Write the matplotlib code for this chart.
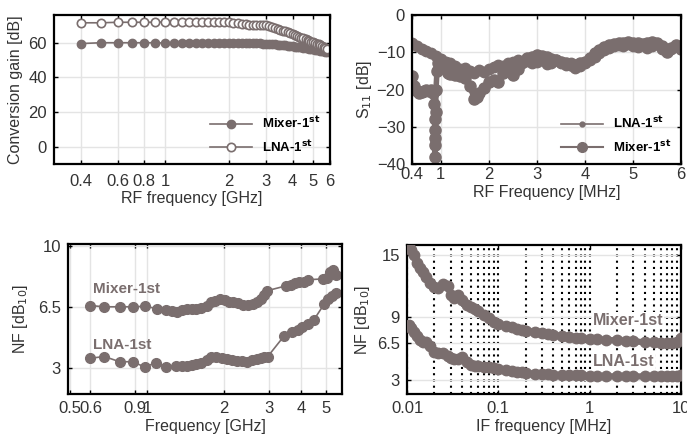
import matplotlib
matplotlib.use("Agg")
import matplotlib.pyplot as plt
from matplotlib.ticker import FixedLocator, NullFormatter, NullLocator
from matplotlib.lines import Line2D

plt.rcParams['font.family'] = ['Liberation Sans', 'DejaVu Sans']

GRAY = '#7a6e6e'
TXT = '#333333'
GRID = '#e4e4e4'

# ---- Top-left: conversion gain ----
cg_freq = [0.4, 0.5, 0.6, 0.7, 0.8, 0.9, 1.0, 1.1, 1.2, 1.3, 1.4, 1.5, 1.6, 1.7, 1.8, 1.9,
           2.0, 2.1, 2.2, 2.3, 2.4, 2.5, 2.6, 2.7, 2.8, 2.9, 3.0, 3.1, 3.2, 3.3, 3.4, 3.5,
           3.6, 3.7, 3.8, 3.9, 4.0, 4.1, 4.2, 4.3, 4.4, 4.5, 4.6, 4.7, 4.8, 4.9, 5.0, 5.1,
           5.2, 5.3, 5.4, 5.5, 5.6, 5.7, 5.8]
cg_lna = [71.5, 71.5, 71.8, 71.8, 71.8, 71.8, 72.0, 72.0, 72.0, 72.0, 72.0, 72.0, 72.0, 72.0, 72.0, 72.0,
          71.8, 71.5, 71.2, 71.0, 70.8, 70.5, 70.5, 70.2, 70.2, 70.0, 70.0, 69.5, 69.0, 68.5, 68.0, 67.5,
          67.0, 66.5, 66.0, 65.5, 65.0, 64.5, 64.0, 63.5, 63.0, 62.5, 62.0, 61.5, 61.0, 60.5, 60.2, 60.0,
          59.5, 59.0, 58.5, 58.0, 57.5, 57.0, 56.5]
cg_mixer = [59.5, 60.0, 60.0, 60.0, 60.0, 60.0, 59.8, 59.8, 59.8, 59.8, 59.8, 59.8, 59.8, 59.8, 59.8, 59.8,
            59.8, 59.8, 59.8, 59.8, 59.8, 59.7, 59.7, 59.6, 59.6, 59.5, 59.4, 59.3, 59.2, 59.0, 58.9, 58.8,
            58.6, 58.4, 58.2, 58.0, 57.9, 57.8, 57.6, 57.5, 57.3, 57.2, 57.0, 56.8, 56.6, 56.4, 56.2, 56.0,
            55.8, 55.6, 55.4, 55.2, 55.0, 54.8, 54.6]
cg_xticks = [0.4, 0.6, 0.8, 1, 2, 3, 4, 5, 6]
cg_xticklabels = ['0.4', '0.6', '0.8', '1', '2', '3', '4', '5', '6']
cg_yticks = [0, 20, 40, 60]

# ---- Top-right: S11 ----
s11_lna_freq = [0.4, 0.5, 0.6, 0.7, 0.8, 0.9, 1.0, 1.1, 1.2, 1.3, 1.4, 1.5, 1.6, 1.7, 1.8, 1.9,
                2.0, 2.1, 2.2, 2.3, 2.4, 2.5, 2.6, 2.7, 2.8, 2.9, 3.0, 3.1, 3.2, 3.3, 3.4, 3.5,
                3.6, 3.7, 3.8, 3.9, 4.0, 4.1, 4.2, 4.3, 4.4, 4.5, 4.6, 4.7, 4.8, 4.9, 5.0, 5.1,
                5.2, 5.3, 5.4, 5.5, 5.6, 5.7, 5.8, 5.9, 6.0]
s11_lna = [-7.5, -8.3, -9.0, -9.6, -10.3, -11.0, -11.8, -12.6, -13.0, -13.8, -14.5, -14.2, -15.0, -15.6, -14.8, -15.3,
           -14.6, -14.0, -13.5, -13.8, -13.0, -12.6, -12.2, -12.8, -12.4, -13.0, -12.5, -12.0, -13.2, -12.8, -12.2, -13.0,
           -13.5, -13.0, -14.2, -13.6, -12.8, -12.0, -11.2, -10.2, -9.4, -8.8, -8.2, -8.0, -8.4, -7.8, -8.2, -8.6,
           -8.0, -8.8, -8.2, -7.8, -9.0, -9.6, -9.0, -8.4, -9.0]
s11_mix_freq = [0.40, 0.45, 0.50, 0.55, 0.60, 0.65, 0.70, 0.75, 0.80, 0.84, 0.86, 0.87, 0.88, 0.88, 0.88, 0.88,
                0.89, 0.90, 0.92, 0.95, 1.00, 1.05, 1.10, 1.15, 1.20, 1.30, 1.40, 1.50, 1.60, 1.70, 1.75, 1.80,
                1.90, 2.00, 2.10, 2.20, 2.30, 2.40, 2.50, 2.60, 2.70, 2.80, 2.90, 3.00, 3.10, 3.20, 3.30, 3.40,
                3.50, 3.60, 3.70, 3.80, 3.90, 4.00, 4.10, 4.20, 4.30, 4.40, 4.50, 4.60, 4.70, 4.80, 4.90, 5.00,
                5.10, 5.20, 5.30, 5.40, 5.50, 5.60, 5.70, 5.80, 5.90, 6.00]
s11_mix = [-16.5, -19.0, -20.5, -21.0, -20.8, -20.5, -20.0, -20.3, -20.0, -21.0, -24.0, -28.0, -31.0, -35.0, -38.0, -33.0,
           -26.0, -20.0, -15.0, -13.0, -12.5, -13.5, -14.5, -15.5, -15.8, -16.0, -16.5, -17.0, -19.0, -22.5, -22.0, -21.0,
           -19.5, -18.0, -17.5, -18.0, -15.5, -15.0, -16.0, -14.5, -12.7, -11.5, -11.3, -10.8, -11.0, -11.3, -11.8, -12.2,
           -12.6, -13.0, -13.3, -13.5, -13.0, -12.5, -11.5, -10.2, -9.4, -8.6, -8.1, -7.8, -7.6, -7.4, -7.2, -7.4,
           -7.6, -7.8, -7.4, -7.2, -7.5, -8.2, -9.8, -8.8, -8.1, -9.0]
s11_xticks = [0.4, 1, 2, 3, 4, 5, 6]
s11_xticklabels = ['0.4', '1', '2', '3', '4', '5', '6']
s11_yticks = [-40, -30, -20, -10, 0]

# ---- Bottom-left: NF vs RF frequency ----
nf_mix_freq = [0.6, 0.68, 0.78, 0.88, 0.98, 1.09, 1.19, 1.25, 1.31, 1.37, 1.43, 1.5, 1.56, 1.63, 1.71, 1.78,
               1.84, 1.93, 2.02, 2.1, 2.17, 2.27, 2.38, 2.49, 2.6, 2.7, 2.8, 2.88, 2.95,
               3.5, 3.65, 3.8, 3.95, 4.1, 4.25, 4.9, 5.05, 5.2, 5.35, 5.5]
nf_mix = [6.57, 6.5, 6.5, 6.5, 6.53, 6.4, 6.34, 6.25, 6.19, 6.3, 6.37, 6.38, 6.4, 6.45, 6.53, 6.8,
          6.85, 6.95, 6.9, 6.8, 6.76, 6.7, 6.62, 6.6, 6.66, 6.8, 6.95, 7.2, 7.42,
          7.7, 7.75, 7.85, 7.9, 7.95, 8.05, 8.1, 8.15, 8.5, 8.6, 8.3]
nf_lna_freq = [0.6, 0.68, 0.78, 0.88, 0.98, 1.08, 1.19, 1.3, 1.37, 1.43, 1.5, 1.56, 1.63, 1.71, 1.78, 1.87,
               1.96, 2.06, 2.15, 2.25, 2.35, 2.46, 2.58, 2.7, 2.8, 2.88, 2.97,
               3.45, 3.7, 3.9, 4.05, 4.25, 4.5, 4.94, 5.1, 5.3, 5.5]
nf_lna = [3.55, 3.65, 3.35, 3.35, 3.04, 3.3, 3.04, 3.08, 3.1, 3.12, 3.15, 3.2, 3.25, 3.45, 3.6, 3.65,
          3.55, 3.5, 3.45, 3.4, 3.42, 3.35, 3.45, 3.5, 3.55, 3.6, 3.65,
          4.85, 5.05, 5.15, 5.35, 5.5, 5.75, 6.66, 6.95, 7.1, 7.3]
nf_xticks = [0.5, 0.6, 0.9, 1, 2, 3, 4, 5]
nf_xticklabels = ['0.5', '0.6', '0.9', '1', '2', '3', '4', '5']
nf_yticks = [3, 6.5, 10]

# ---- Bottom-right: NF vs IF frequency ----
if_freq = [0.0105, 0.011, 0.012, 0.013, 0.014, 0.015, 0.016, 0.018, 0.02, 0.022, 0.025, 0.028, 0.03, 0.033,
           0.036, 0.04, 0.045, 0.05, 0.055, 0.06, 0.07, 0.08, 0.09, 0.1, 0.12, 0.14, 0.16, 0.18, 0.2, 0.25,
           0.3, 0.35, 0.4, 0.5, 0.6, 0.7, 0.8, 1, 1.2, 1.5, 2, 2.5, 3, 4, 5, 6, 7, 8, 9, 10]
if_mix = [15.9, 15.5, 15.0, 14.3, 13.8, 13.4, 12.9, 12.3, 11.9, 11.8, 12.2, 12.0, 11.2, 10.9,
          11.2, 10.7, 10.2, 10.0, 9.8, 9.6, 9.2, 8.9, 8.6, 8.4, 8.2, 8.1, 7.9, 7.8, 7.7, 7.6,
          7.5, 7.4, 7.3, 7.2, 7.1, 7.0, 7.0, 6.9, 6.9, 6.8, 6.8, 6.7, 6.7, 6.6, 6.6, 6.5, 6.5, 6.5, 6.6, 7.0]
if_lna = [8.3, 8.0, 7.6, 7.2, 6.8, 6.6, 6.6, 6.2, 5.7, 5.6, 5.6, 5.3, 5.1, 5.0,
          5.0, 5.2, 4.7, 4.4, 4.3, 4.3, 4.2, 4.2, 4.1, 4.0, 3.9, 3.8, 3.7, 3.7, 3.6, 3.55,
          3.5, 3.5, 3.45, 3.4, 3.4, 3.4, 3.4, 3.35, 3.35, 3.3, 3.3, 3.3, 3.3, 3.3, 3.3, 3.3, 3.3, 3.3, 3.35, 3.45]
if_xticks = [0.01, 0.1, 1, 10]
if_xticklabels = ['0.01', '0.1', '1', '10']
if_yticks = [3, 6.5, 9, 15]

W, H = 687, 443
fig = plt.figure(figsize=(W / 100, H / 100), dpi=100)
fig.patch.set_facecolor('white')


def axes_px(l, t, r, b):
    return fig.add_axes([l / W, 1 - b / H, (r - l) / W, (b - t) / H])


def style(ax):
    for s in ax.spines.values():
        s.set_linewidth(1.6)
        s.set_color('black')
    ax.tick_params(axis='both', which='both', direction='in', top=True, right=True,
                   labelsize=12, labelcolor=TXT, length=3, width=1)
    ax.tick_params(axis='x', pad=7)
    ax.tick_params(axis='y', pad=5)


FS = 11.5

# Top-left
ax1 = axes_px(54, 15, 330, 164)
ax1.set_xscale('log')
ax1.plot(cg_freq, cg_mixer, '-o', color=GRAY, mfc=GRAY, mec=GRAY, ms=6, lw=1.2, label='Mixer-1$^{\\mathbf{st}}$')
ax1.plot(cg_freq, cg_lna, '-o', color=GRAY, mfc='white', mec=GRAY, ms=6, mew=1.2, lw=1.2, label='LNA-1$^{\\mathbf{st}}$')
ax1.set_xlim(0.3, 6)
ax1.set_ylim(-10, 76)
ax1.xaxis.set_major_locator(FixedLocator(cg_xticks))
ax1.set_xticklabels(cg_xticklabels)
ax1.xaxis.set_minor_locator(NullLocator())
ax1.set_yticks(cg_yticks)
ax1.grid(True, color=GRID, lw=1)
ax1.set_xlabel('RF frequency [GHz]', fontsize=FS, color=TXT, labelpad=2)
ax1.set_ylabel('Conversion gain [dB]', fontsize=FS, color=TXT, labelpad=4)
style(ax1)
ax1.legend(loc='lower right', frameon=False, prop={'weight': 'bold', 'size': 9.5},
           handlelength=3.2, borderaxespad=0.3, labelspacing=0.6)

# Top-right
ax2 = axes_px(412, 15, 681, 164)
ax2.plot(s11_lna_freq, s11_lna, '-o', color=GRAY, mfc=GRAY, mec=GRAY, ms=7.5, lw=3.5, label='LNA-1$^{\\mathbf{st}}$')
ax2.plot(s11_mix_freq, s11_mix, '-o', color=GRAY, mfc=GRAY, mec=GRAY, ms=8, lw=4, label='Mixer-1$^{\\mathbf{st}}$')
ax2.set_xlim(0.4, 6)
ax2.set_ylim(-40, 0)
ax2.set_xticks(s11_xticks)
ax2.set_xticklabels(s11_xticklabels)
ax2.set_yticks(s11_yticks)
ax2.grid(True, color=GRID, lw=1)
ax2.set_xlabel('RF Frequency [MHz]', fontsize=FS, color=TXT, labelpad=2)
ax2.set_ylabel('S$_{11}$ [dB]', fontsize=FS, color=TXT, labelpad=2)
style(ax2)
ax2.tick_params(axis='x', pad=2)
h_lna = Line2D([], [], color=GRAY, lw=1.2, marker='o', ms=3.5, mfc=GRAY, mec=GRAY)
h_mix = Line2D([], [], color=GRAY, lw=1.5, marker='o', ms=7, mfc=GRAY, mec=GRAY)
ax2.legend([h_lna, h_mix], ['LNA-1$^{\\mathbf{st}}$', 'Mixer-1$^{\\mathbf{st}}$'], loc='lower right',
           frameon=False, prop={'weight': 'bold', 'size': 9.5}, handlelength=3.2,
           borderaxespad=0.3, labelspacing=0.6)

# Bottom-left
ax3 = axes_px(68, 244, 342, 394)
ax3.set_xscale('log')
ax3.plot(nf_mix_freq, nf_mix, '-o', color=GRAY, mfc=GRAY, mec=GRAY, ms=7, lw=1.2)
ax3.plot(nf_lna_freq, nf_lna, '-o', color=GRAY, mfc=GRAY, mec=GRAY, ms=7, lw=1.2)
ax3.set_xlim(0.49, 5.8)
ax3.set_ylim(1.5, 10.1)
ax3.xaxis.set_major_locator(FixedLocator(nf_xticks))
ax3.set_xticklabels(nf_xticklabels)
ax3.xaxis.set_minor_locator(NullLocator())
ax3.set_yticks(nf_yticks)
ax3.set_yticklabels(['3', '6.5', '10'])
ax3.grid(True, color=GRID, lw=1)
ax3.text(0.615, 7.5, 'Mixer-1st', color=GRAY, fontsize=11, fontweight='bold', va='center')
ax3.text(0.615, 4.3, 'LNA-1st', color=GRAY, fontsize=11, fontweight='bold', va='center')
ax3.set_xlabel('Frequency [GHz]', fontsize=FS, color=TXT, labelpad=2)
ax3.set_ylabel('NF [dB$_{10}$]', fontsize=FS, color=TXT, labelpad=6)
style(ax3)
ax3.tick_params(axis='x', pad=5)

# Bottom-right
ax4 = axes_px(407, 245, 681, 394)
ax4.set_xscale('log')
ax4.set_xlim(0.01, 10)
ax4.set_ylim(1.6, 16)
ax4.set_xticks(if_xticks)
ax4.set_xticklabels(if_xticklabels)
ax4.xaxis.set_minor_formatter(NullFormatter())
ax4.set_yticks(if_yticks)
ax4.set_yticklabels(['3', '6.5', '9', '15'])
ax4.grid(True, axis='x', which='both', color='black', ls=(0, (1, 2)), lw=1.5)
ax4.grid(True, axis='y', which='major', color=GRID, lw=1)
ax4.plot(if_freq, if_mix, '-o', color=GRAY, mfc=GRAY, mec=GRAY, ms=7.5, lw=4.5, zorder=3)
ax4.plot(if_freq, if_lna, '-o', color=GRAY, mfc=GRAY, mec=GRAY, ms=7.5, lw=4.5, zorder=3)
ax4.text(1.09, 8.75, 'Mixer-1st', color=GRAY, fontsize=11.5, fontweight='bold', va='center', zorder=4,
         bbox=dict(facecolor='white', edgecolor='none', pad=0.5))
ax4.text(1.09, 4.7, 'LNA-1st', color=GRAY, fontsize=11.5, fontweight='bold', va='center', zorder=4,
         bbox=dict(facecolor='white', edgecolor='none', pad=0.5))
ax4.set_xlabel('IF frequency [MHz]', fontsize=FS, color=TXT, labelpad=2)
ax4.set_ylabel('NF [dB$_{10}$]', fontsize=FS, color=TXT, labelpad=4)
style(ax4)
ax4.tick_params(axis='x', which='minor', length=0)
ax4.tick_params(axis='x', pad=5)

fig.savefig('out.png', dpi=100, facecolor='white')
